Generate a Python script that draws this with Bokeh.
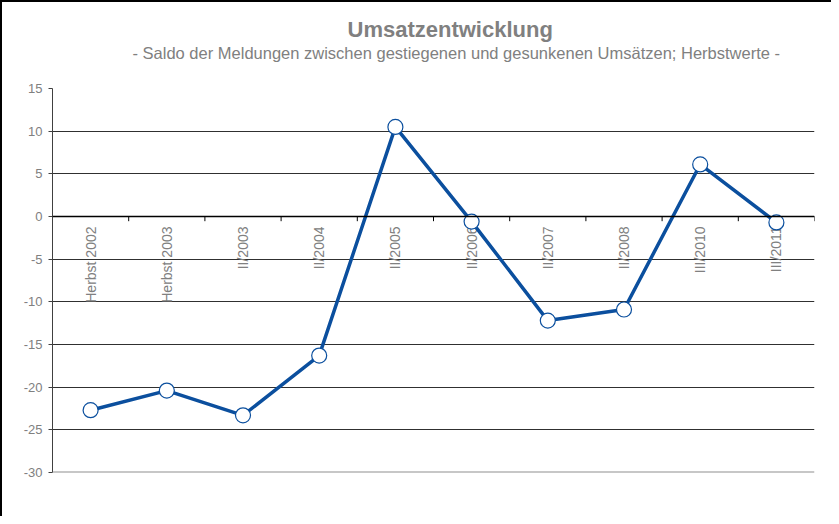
from math import pi
from bokeh.plotting import figure
from bokeh.models import Range1d, FixedTicker, Span, Title
from bokeh.core.properties import value
from bokeh.embed import file_html
from bokeh.resources import INLINE

categories = ["Herbst 2002", "Herbst 2003", "II/2003", "II/2004", "II/2005",
              "II/2006", "II/2007", "II/2008", "III/2010", "III/2011"]
saldo = [-22.7, -20.4, -23.3, -16.3, 10.5, -0.6, -12.2, -10.9, 6.1, -0.7]
y_ticks = [-30, -25, -20, -15, -10, -5, 0, 5, 10, 15]
title_text = "Umsatzentwicklung"
subtitle_text = "- Saldo der Meldungen zwischen gestiegenen und gesunkenen Umsätzen; Herbstwerte -"

FONT = "Liberation Sans"
GRAY = "#808080"
BLUE = "#0b4f9e"

n = len(categories)
xs = [i + 0.5 for i in range(n)]
bounds = list(range(n + 1))

p = figure(width=831, height=516, output_backend="svg", toolbar_location=None,
           x_range=Range1d(0, n), y_range=Range1d(y_ticks[0], y_ticks[-1]),
           min_border_left=50, min_border_right=19, min_border_top=86,
           min_border_bottom=46)
p.outline_line_color = None
p.styles = {"border-left": "2px solid #000", "border-top": "2px solid #000"}

p.xaxis.visible = False
p.xgrid.visible = False

yax = p.yaxis[0]
yax.ticker = FixedTicker(ticks=y_ticks)
yax.major_label_overrides = {t: str(t) for t in y_ticks}
yax.major_label_text_color = GRAY
yax.major_label_text_font = FONT
yax.major_label_text_font_size = "13px"
yax.major_tick_out = 4
yax.major_tick_in = 0
yax.minor_tick_out = 0
yax.minor_tick_in = 0
yax.axis_line_color = "#404040"
yax.major_tick_line_color = "#404040"
yax.major_label_standoff = 6

p.ygrid.ticker = FixedTicker(ticks=y_ticks)
p.ygrid.grid_line_color = "#303030"
p.ygrid.grid_line_width = 1

p.add_layout(Span(location=y_ticks[0], dimension="width", line_color="#909090", line_width=2))
p.add_layout(Span(location=0, dimension="width", line_color="black", line_width=1.5))
p.segment(x0=bounds, y0=[0] * len(bounds), x1=bounds, y1=[-0.55] * len(bounds),
          line_color="black", line_width=1)

p.text(x=xs, y=[0] * n, text=categories, angle=pi / 2, text_align="right",
       text_baseline="middle", y_offset=10, text_color=GRAY,
       text_font=value(FONT), text_font_size="14px")

p.line(xs, saldo, line_color=BLUE, line_width=3.5)
p.scatter(xs, saldo, size=15, fill_color="white", line_color=BLUE, line_width=1.2)

p.add_layout(Title(text=subtitle_text, align="left", offset=80, standoff=54,
                   text_color=GRAY, text_font=FONT, text_font_size="16.5px",
                   text_font_style="normal"), "above")
p.add_layout(Title(text=title_text, align="left", offset=295, standoff=-55,
                   text_color=GRAY, text_font=FONT, text_font_size="22px",
                   text_font_style="bold"), "above")

open("out.html", "w").write(file_html(p, INLINE))
